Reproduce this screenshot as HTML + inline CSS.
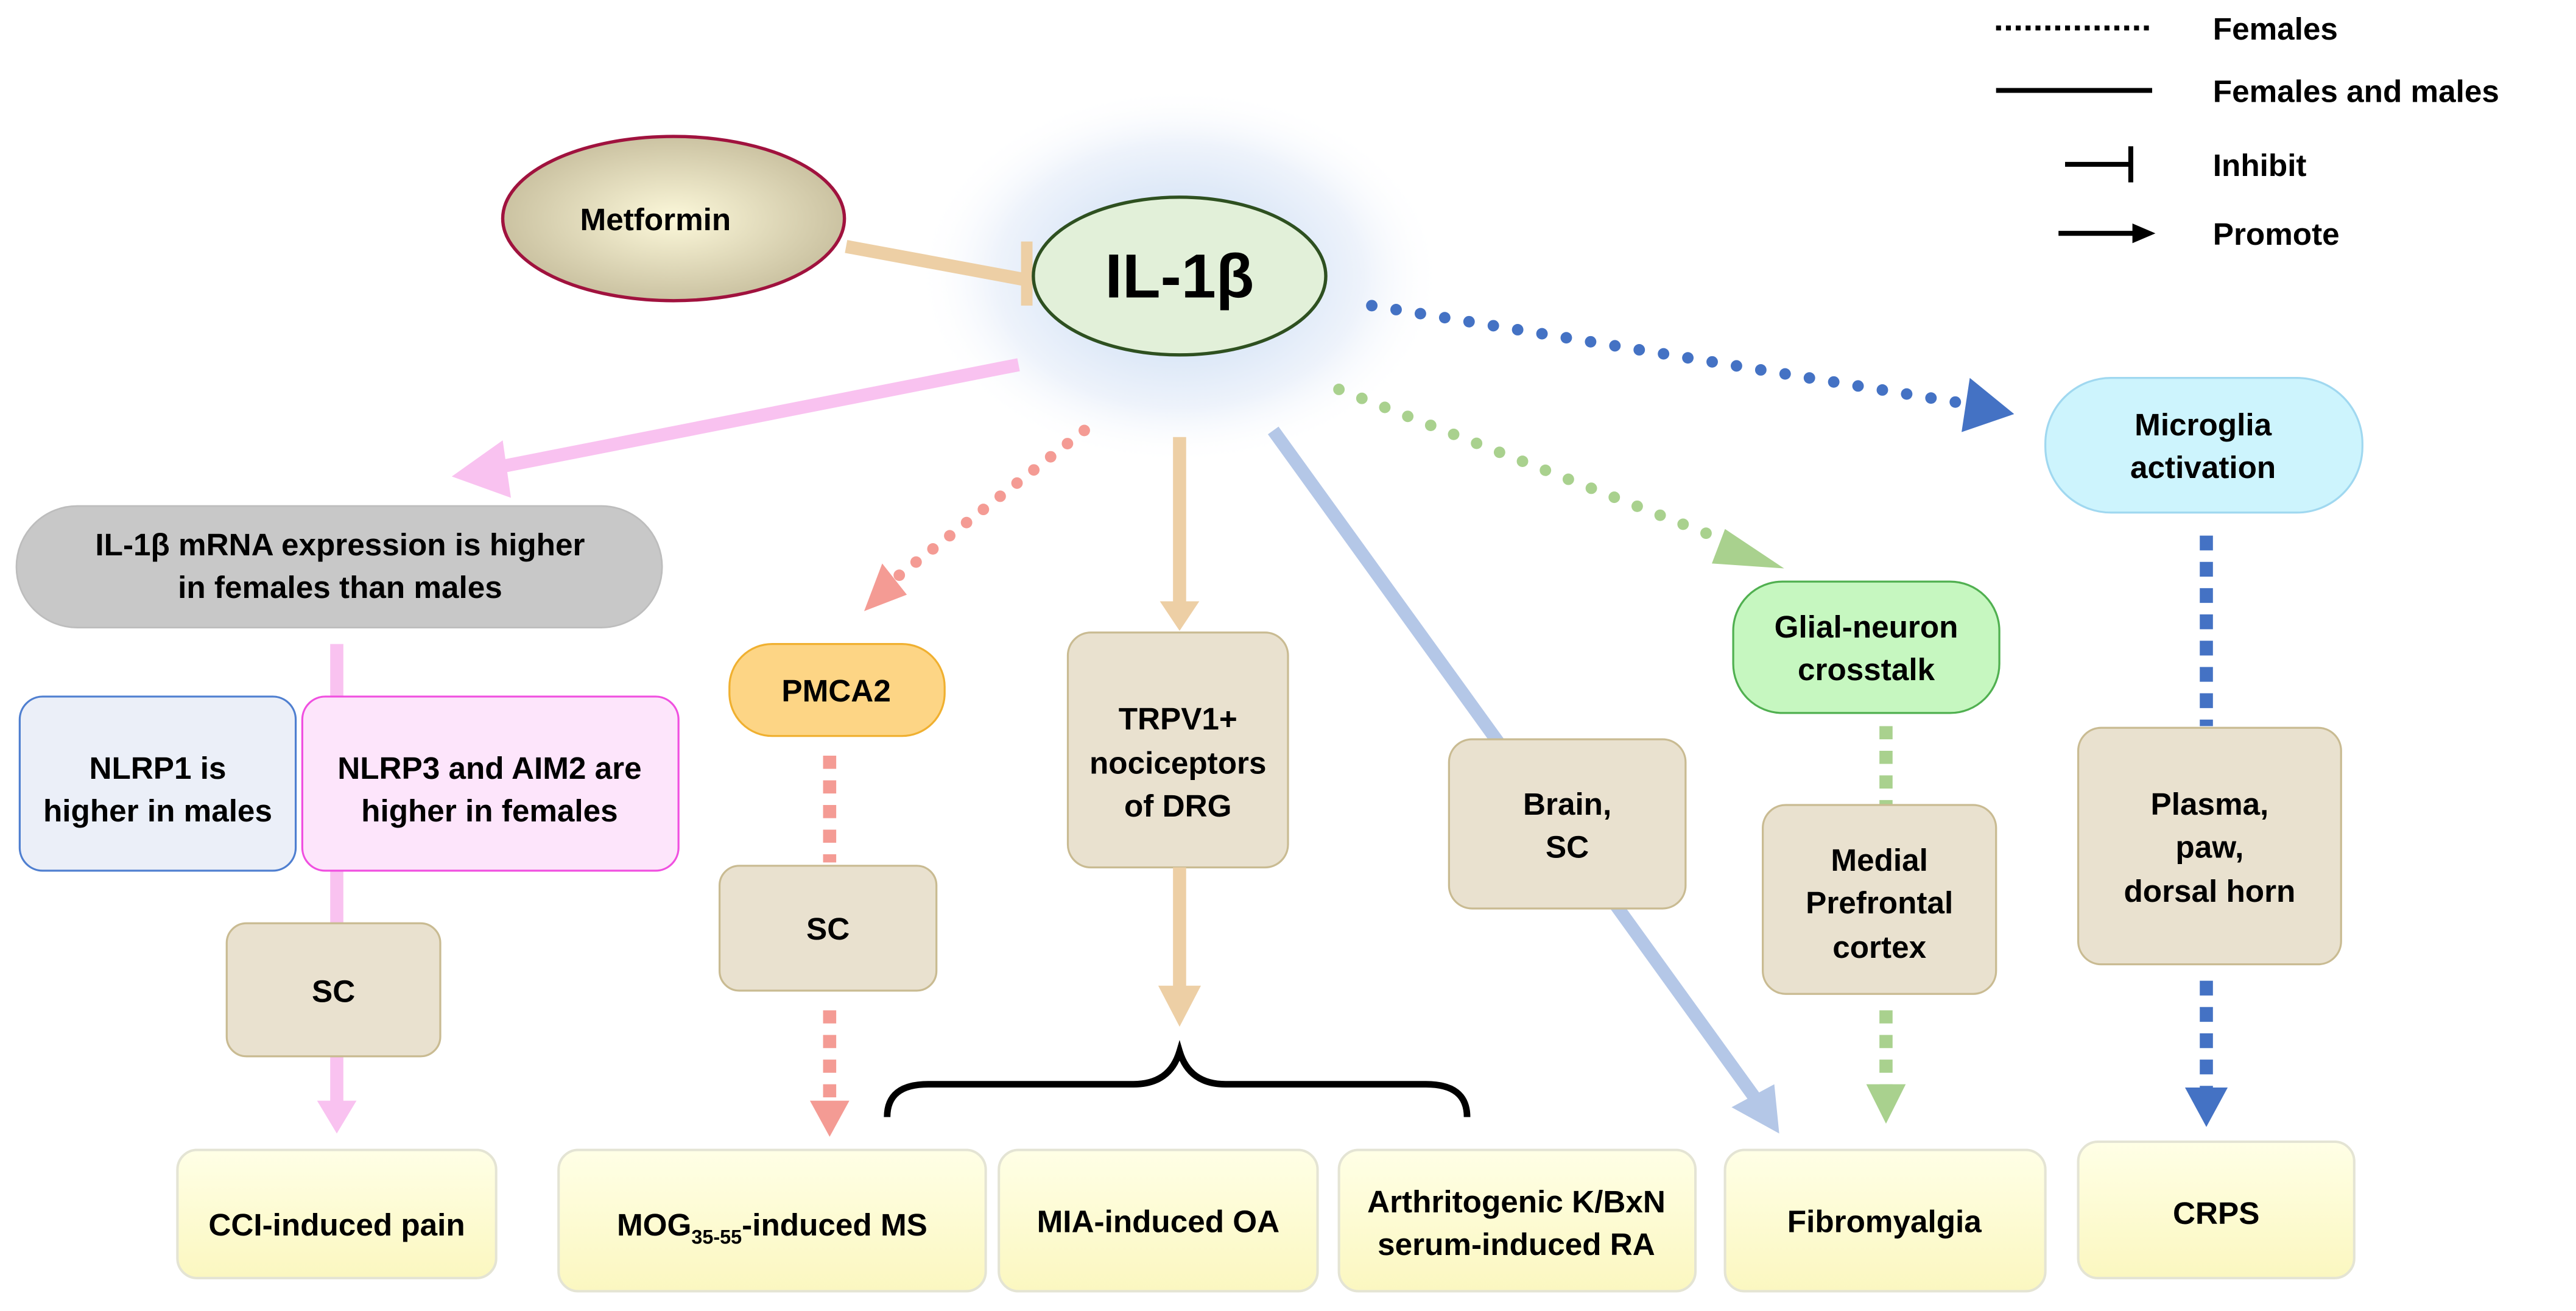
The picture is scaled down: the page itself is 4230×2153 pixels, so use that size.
<!DOCTYPE html>
<html><head><meta charset="utf-8"><style>html,body{margin:0;padding:0;background:#fff}svg{display:block}</style></head>
<body>
<svg width="4230" height="2153" viewBox="0 0 1568 798" xmlns="http://www.w3.org/2000/svg" font-family="Liberation Sans, Arial, sans-serif" font-weight="bold">
<defs>
<radialGradient id="met" cx="50%" cy="50%" r="55%"><stop offset="0" stop-color="#fcf8da"/><stop offset="1" stop-color="#c6bd9c"/></radialGradient>
<radialGradient id="glow" cx="50%" cy="50%" r="50%"><stop offset="0.4" stop-color="#dbe7f7"/><stop offset="0.7" stop-color="#eef3fb"/><stop offset="1" stop-color="#ffffff" stop-opacity="0"/></radialGradient>
<linearGradient id="yel" x1="0" y1="0" x2="0" y2="1"><stop offset="0" stop-color="#ffffe6"/><stop offset="1" stop-color="#fbf7c0"/></linearGradient>
</defs>
<rect width="1568" height="798" fill="#fff"/>
<ellipse cx="718" cy="168" rx="160" ry="115" fill="url(#glow)"/>

<!-- Legend -->
<line x1="1215" y1="17" x2="1310" y2="17" stroke="#000" stroke-width="3" stroke-dasharray="3,3"/>
<text x="1347" y="24" font-size="19">Females</text>
<line x1="1215" y1="55" x2="1310" y2="55" stroke="#000" stroke-width="3"/>
<text x="1347" y="62" font-size="19">Females and males</text>
<line x1="1257" y1="100" x2="1297" y2="100" stroke="#000" stroke-width="3"/>
<line x1="1297" y1="89" x2="1297" y2="111" stroke="#000" stroke-width="3"/>
<text x="1347" y="107" font-size="19">Inhibit</text>
<line x1="1253" y1="142" x2="1300" y2="142" stroke="#000" stroke-width="3"/>
<path d="M1298,136 L1312,142 L1298,148z" fill="#000"/>
<text x="1347" y="149" font-size="19">Promote</text>

<!-- Metformin -->
<ellipse cx="410" cy="133" rx="104" ry="50" fill="url(#met)" stroke="#a0123e" stroke-width="2"/>
<text x="399" y="140" font-size="19" text-anchor="middle">Metformin</text>
<line x1="515" y1="150" x2="623" y2="170" stroke="#edcfa5" stroke-width="8"/>
<line x1="625" y1="147" x2="625" y2="186" stroke="#edcfa5" stroke-width="7"/>

<!-- IL-1b -->
<ellipse cx="718" cy="168" rx="89" ry="48" fill="#e2f0d9" stroke="#2e5020" stroke-width="2"/>
<text x="718" y="181" font-size="38" text-anchor="middle">IL-1β</text>

<!-- pink arrow -->
<line x1="620" y1="222" x2="300" y2="285" stroke="#f9c2f0" stroke-width="8"/>
<path d="M306,268 L275,290 L311,303z" fill="#f9c2f0"/>

<!-- grey box -->
<rect x="10" y="308" width="393" height="74" rx="37" fill="#c8c8c8" stroke="#bdbdbd"/>
<text x="207" y="338" font-size="19" text-anchor="middle">IL-1β mRNA expression is higher</text>
<text x="207" y="364" font-size="19" text-anchor="middle">in females than males</text>

<line x1="205" y1="392" x2="205" y2="425" stroke="#f9c2f0" stroke-width="8"/>
<line x1="205" y1="530" x2="205" y2="563" stroke="#f9c2f0" stroke-width="8"/>
<line x1="205" y1="643" x2="205" y2="672" stroke="#f9c2f0" stroke-width="8"/>
<path d="M193,670 L217,670 L205,690z" fill="#f9c2f0"/>

<rect x="12" y="424" width="168" height="106" rx="14" fill="#ebeff8" stroke="#4f7fd0" stroke-width="1.2"/>
<text x="96" y="474" font-size="19" text-anchor="middle">NLRP1 is</text>
<text x="96" y="500" font-size="19" text-anchor="middle">higher in males</text>
<rect x="184" y="424" width="229" height="106" rx="14" fill="#fde5fb" stroke="#f050e0" stroke-width="1.2"/>
<text x="298" y="474" font-size="19" text-anchor="middle">NLRP3 and AIM2 are</text>
<text x="298" y="500" font-size="19" text-anchor="middle">higher in females</text>

<rect x="138" y="562" width="130" height="81" rx="12" fill="#e9e1cf" stroke="#c9bb92" stroke-width="1.2"/>
<text x="203" y="610" font-size="19" text-anchor="middle">SC</text>
<rect x="108" y="700" width="194" height="78" rx="12" fill="url(#yel)" stroke="#e4e4d4" stroke-width="1.5"/>
<text x="205" y="752" font-size="19" text-anchor="middle">CCI-induced pain</text>

<!-- salmon -->
<line x1="660" y1="262" x2="545" y2="352" stroke="#f49b94" stroke-width="7" stroke-linecap="round" stroke-dasharray="0,13"/>
<path d="M526,372 L537,343 L552,362z" fill="#f49b94"/>
<rect x="444" y="392" width="131" height="56" rx="26" fill="#fdd585" stroke="#f0b030" stroke-width="1.2"/>
<text x="509" y="427" font-size="19" text-anchor="middle">PMCA2</text>
<line x1="505" y1="460" x2="505" y2="525" stroke="#f49b94" stroke-width="8" stroke-dasharray="8,7"/>
<rect x="438" y="527" width="132" height="76" rx="12" fill="#e9e1cf" stroke="#c9bb92" stroke-width="1.2"/>
<text x="504" y="572" font-size="19" text-anchor="middle">SC</text>
<line x1="505" y1="615" x2="505" y2="672" stroke="#f49b94" stroke-width="8" stroke-dasharray="8,7"/>
<path d="M493,670 L517,670 L505,692z" fill="#f49b94"/>

<!-- tan -->
<line x1="718" y1="266" x2="718" y2="370" stroke="#edcfa5" stroke-width="8"/>
<path d="M706,366 L730,366 L718,384z" fill="#edcfa5"/>
<rect x="650" y="385" width="134" height="143" rx="14" fill="#e9e1cf" stroke="#c9bb92" stroke-width="1.2"/>
<text x="717" y="444" font-size="19" text-anchor="middle">TRPV1+</text>
<text x="717" y="471" font-size="19" text-anchor="middle">nociceptors</text>
<text x="717" y="497" font-size="19" text-anchor="middle">of DRG</text>
<line x1="718" y1="528" x2="718" y2="603" stroke="#edcfa5" stroke-width="8"/>
<path d="M705,600 L731,600 L718,625z" fill="#edcfa5"/>
<path d="M540,680 Q540,660 565,660 L690,660 Q712,660 718,640 Q724,660 746,660 L868,660 Q893,660 893,680" fill="none" stroke="#000" stroke-width="4"/>

<!-- light blue -->
<line x1="775" y1="262" x2="1068" y2="668" stroke="#b4c7e7" stroke-width="8"/>
<path d="M1054,674 L1080,660 L1083,690z" fill="#b4c7e7"/>
<rect x="882" y="450" width="144" height="103" rx="14" fill="#e9e1cf" stroke="#c9bb92" stroke-width="1.2"/>
<text x="954" y="496" font-size="19" text-anchor="middle">Brain,</text>
<text x="954" y="522" font-size="19" text-anchor="middle">SC</text>

<!-- green -->
<line x1="815" y1="237" x2="1060" y2="333" stroke="#a9d18e" stroke-width="7" stroke-linecap="round" stroke-dasharray="0,15"/>
<path d="M1050,322 L1086,346 L1042,343z" fill="#a9d18e"/>
<rect x="1055" y="354" width="162" height="80" rx="30" fill="#c6f7c0" stroke="#50b050" stroke-width="1.2"/>
<text x="1136" y="388" font-size="19" text-anchor="middle">Glial-neuron</text>
<text x="1136" y="414" font-size="19" text-anchor="middle">crosstalk</text>
<line x1="1148" y1="442" x2="1148" y2="490" stroke="#a9d18e" stroke-width="8" stroke-dasharray="8,7"/>
<rect x="1073" y="490" width="142" height="115" rx="14" fill="#e9e1cf" stroke="#c9bb92" stroke-width="1.2"/>
<text x="1144" y="530" font-size="19" text-anchor="middle">Medial</text>
<text x="1144" y="556" font-size="19" text-anchor="middle">Prefrontal</text>
<text x="1144" y="583" font-size="19" text-anchor="middle">cortex</text>
<line x1="1148" y1="615" x2="1148" y2="662" stroke="#a9d18e" stroke-width="8" stroke-dasharray="8,7"/>
<path d="M1136,660 L1160,660 L1148,684z" fill="#a9d18e"/>

<!-- blue dotted -->
<line x1="835" y1="186" x2="1198" y2="246" stroke="#4472c4" stroke-width="7" stroke-linecap="round" stroke-dasharray="0,15"/>
<path d="M1199,230 L1226,252 L1194,263z" fill="#4472c4"/>
<rect x="1245" y="230" width="193" height="82" rx="40" fill="#cdf4fd" stroke="#a0d8f0" stroke-width="1.2"/>
<text x="1341" y="265" font-size="19" text-anchor="middle">Microglia</text>
<text x="1341" y="291" font-size="19" text-anchor="middle">activation</text>
<line x1="1343" y1="326" x2="1343" y2="442" stroke="#4472c4" stroke-width="8" stroke-dasharray="9,7"/>
<rect x="1265" y="443" width="160" height="144" rx="14" fill="#e9e1cf" stroke="#c9bb92" stroke-width="1.2"/>
<text x="1345" y="496" font-size="19" text-anchor="middle">Plasma,</text>
<text x="1345" y="522" font-size="19" text-anchor="middle">paw,</text>
<text x="1345" y="549" font-size="19" text-anchor="middle">dorsal horn</text>
<line x1="1343" y1="597" x2="1343" y2="664" stroke="#4472c4" stroke-width="8" stroke-dasharray="9,7"/>
<path d="M1330,662 L1356,662 L1343,686z" fill="#4472c4"/>

<!-- bottom boxes -->
<rect x="340" y="700" width="260" height="86" rx="12" fill="url(#yel)" stroke="#e4e4d4" stroke-width="1.5"/>
<text x="470" y="752" font-size="19" text-anchor="middle">MOG<tspan font-size="12" dy="5">35-55</tspan><tspan dy="-5">-induced MS</tspan></text>
<rect x="608" y="700" width="194" height="86" rx="12" fill="url(#yel)" stroke="#e4e4d4" stroke-width="1.5"/>
<text x="705" y="750" font-size="19" text-anchor="middle">MIA-induced OA</text>
<rect x="815" y="700" width="217" height="86" rx="12" fill="url(#yel)" stroke="#e4e4d4" stroke-width="1.5"/>
<text x="923" y="738" font-size="19" text-anchor="middle">Arthritogenic K/BxN</text>
<text x="923" y="764" font-size="19" text-anchor="middle">serum-induced RA</text>
<rect x="1050" y="700" width="195" height="86" rx="12" fill="url(#yel)" stroke="#e4e4d4" stroke-width="1.5"/>
<text x="1147" y="750" font-size="19" text-anchor="middle">Fibromyalgia</text>
<rect x="1265" y="695" width="168" height="83" rx="12" fill="url(#yel)" stroke="#e4e4d4" stroke-width="1.5"/>
<text x="1349" y="745" font-size="19" text-anchor="middle">CRPS</text>
</svg>
</body></html>
